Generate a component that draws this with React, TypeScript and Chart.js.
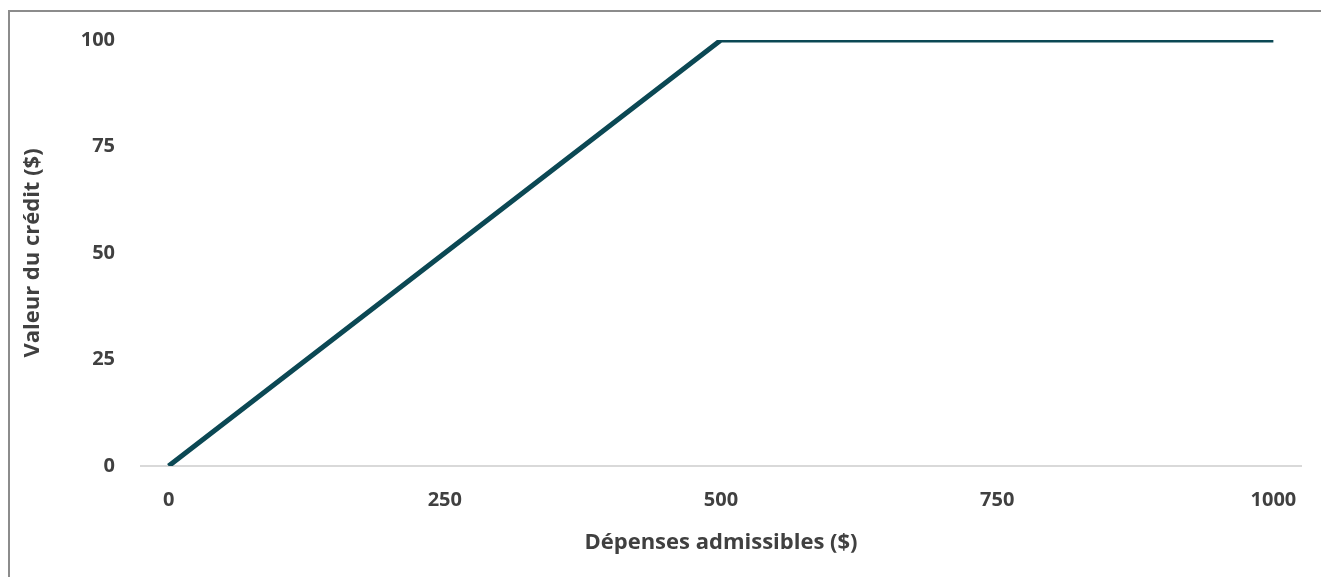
import React, { useEffect, useRef } from "react";
import { Chart, registerables } from "chart.js";

Chart.register(...registerables);

const spendingX = [0, 500, 1000];
const creditY = [0, 100, 100];
const xTicks = [0, 250, 500, 750, 1000];
const yTicks = [0, 25, 50, 75, 100];
const xTitle = "Dépenses admissibles ($)";
const yTitle = "Valeur du crédit ($)";

const FONT = "'Open Sans', Lato, sans-serif";
const TEXT = "#404040";

export default function App() {
  const ref = useRef<HTMLCanvasElement | null>(null);
  useEffect(() => {
    if (!ref.current) return;
    const chart = new Chart(ref.current, {
      type: "line",
      data: {
        datasets: [
          {
            data: spendingX.map((x, i) => ({ x, y: creditY[i] })),
            borderColor: "#0b4854",
            borderWidth: 5,
            pointRadius: 0,
            tension: 0,
            fill: false,
          },
        ],
      },
      options: {
        animation: false,
        responsive: false,
        maintainAspectRatio: false,
        layout: { padding: { top: 28, right: 20, left: 0, bottom: 0 } },
        plugins: { legend: { display: false }, tooltip: { enabled: false } },
        scales: {
          x: {
            type: "linear",
            min: -25,
            max: 1025,
            afterBuildTicks: (s: any) => {
              s.ticks = xTicks.map((v) => ({ value: v }));
            },
            afterFit: (s: any) => {
              s.height = 111;
              s.paddingLeft = 0;
              s.paddingRight = 0;
            },
            grid: { display: false, drawTicks: false },
            border: { display: true, color: "#d9d9d9", width: 2 },
            ticks: {
              padding: 22,
              color: TEXT,
              font: { family: FONT, size: 20, weight: "bold" },
              maxRotation: 0,
              callback: (v: any) => String(v),
            },
            title: {
              display: true,
              text: xTitle,
              color: TEXT,
              font: { family: FONT, size: 22, weight: "bold" },
              padding: { top: 0, bottom: 21 },
            },
          },
          y: {
            type: "linear",
            min: 0,
            max: 100,
            afterBuildTicks: (s: any) => {
              s.ticks = yTicks.map((v) => ({ value: v }));
            },
            afterFit: (s: any) => {
              s.width = 131;
              s.paddingTop = 0;
              s.paddingBottom = 0;
            },
            grid: { display: false, drawTicks: false },
            border: { display: false },
            ticks: {
              padding: 26,
              color: TEXT,
              font: { family: FONT, size: 20, weight: "bold" },
              callback: (v: any) => String(v),
            },
            title: {
              display: true,
              text: yTitle,
              color: TEXT,
              font: { family: FONT, size: 22, weight: "bold" },
              padding: { top: 10, bottom: 0 },
            },
          },
        },
      },
    });
    return () => chart.destroy();
  }, []);
  return (
    <div
      style={{
        position: "absolute",
        left: 8,
        top: 10,
        width: 1311,
        height: 567,
        borderLeft: "2px solid #8c8c8c",
        borderTop: "2px solid #8c8c8c",
        background: "#fff",
      }}
    >
      <canvas ref={ref} width={1311} height={565} style={{ display: "block", width: 1311, height: 565 }} />
    </div>
  );
}
